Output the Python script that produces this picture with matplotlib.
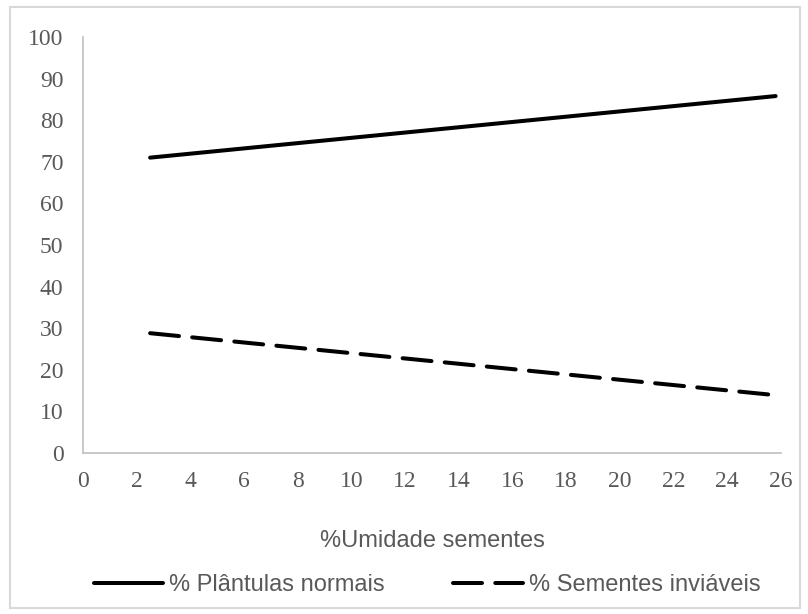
import matplotlib.pyplot as plt
from matplotlib.patches import Rectangle

umidade = [2.5, 25.8]
plantulas_normais = [71.0, 85.8]
sementes_inviaveis = [28.8, 13.9]

x_ticks = list(range(0, 27, 2))
y_ticks = list(range(0, 101, 10))

grey_text = "#595959"
grey_axis = "#bfbfbf"

fig = plt.figure(figsize=(8.08, 6.14), dpi=100)
ax = fig.add_axes([83 / 808, 1 - 453 / 614, 698 / 808, 416 / 614])

ax.plot(umidade, plantulas_normais, color="black", lw=2.9,
        solid_capstyle="round", label="% Plântulas normais")
ax.plot(umidade, sementes_inviaveis, color="black", lw=2.9,
        dashes=(7.2, 3.3), dash_capstyle="round", label="% Sementes inviáveis")

ax.set_xlim(0, 26)
ax.set_ylim(0, 100)
ax.set_xticks(x_ticks)
ax.set_yticks(y_ticks)
for spine in ["top", "right"]:
    ax.spines[spine].set_visible(False)
for spine in ["left", "bottom"]:
    ax.spines[spine].set_color(grey_axis)
    ax.spines[spine].set_linewidth(1.2)
ax.tick_params(length=0, colors=grey_text, labelsize=17)
ax.tick_params(axis="y", pad=14)
ax.tick_params(axis="x", pad=13)
for lab in ax.get_xticklabels() + ax.get_yticklabels():
    lab.set_fontfamily("Liberation Serif")

fig.text(432 / 808, 1 - 541 / 614, "%Umidade sementes", ha="center", va="center",
         fontsize=17, color=grey_text, family="Liberation Sans")

leg = fig.legend(loc="center", bbox_to_anchor=(427 / 808, 1 - 585 / 614), ncol=2,
                 frameon=False, handlelength=2.95, handletextpad=0.25,
                 columnspacing=2.9, borderpad=0, borderaxespad=0,
                 prop={"family": "Liberation Sans", "size": 17})
for t in leg.get_texts():
    t.set_color(grey_text)

fig.patches.append(Rectangle((10 / 808, 6 / 614), 790 / 808, 601 / 614,
                             transform=fig.transFigure, fill=False,
                             edgecolor="#d9d9d9", lw=1.5))

fig.savefig("out.png", dpi=100)
